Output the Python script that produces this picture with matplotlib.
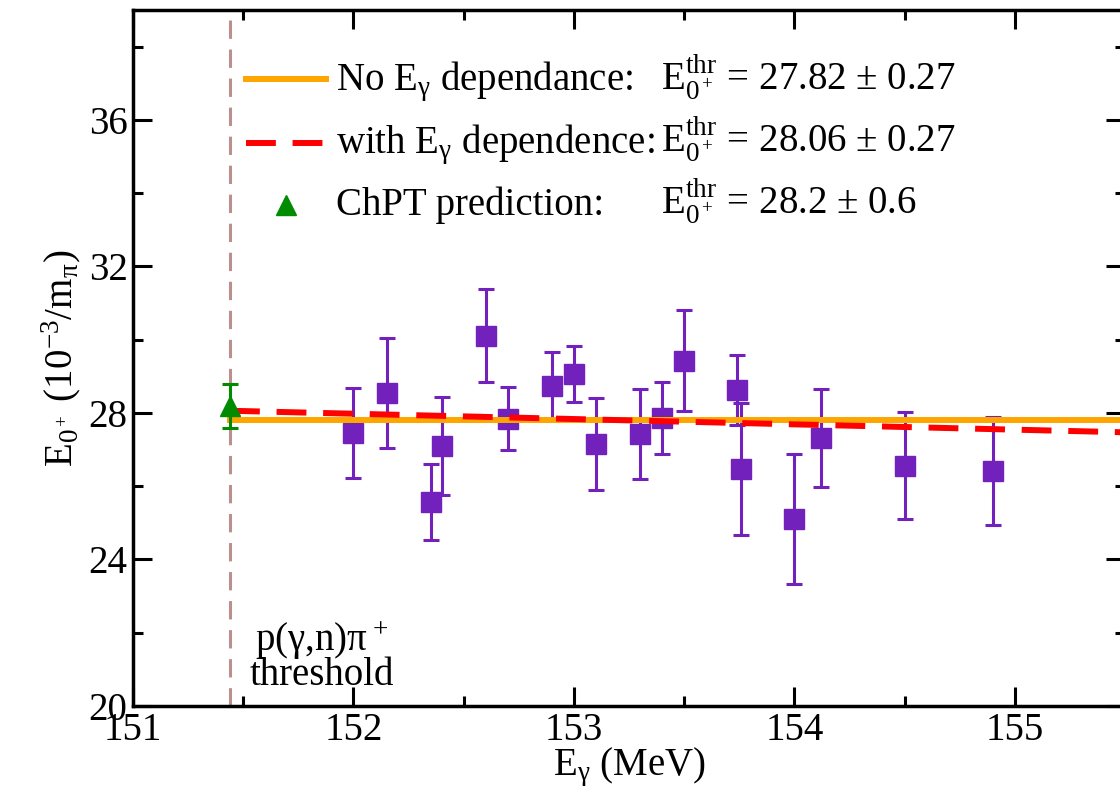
import matplotlib
matplotlib.use('Agg')
import matplotlib.pyplot as plt
import numpy as np
from matplotlib.lines import Line2D

plt.rcParams['font.family'] = ['Liberation Serif', 'DejaVu Serif']
plt.rcParams['mathtext.fontset'] = 'custom'
plt.rcParams['mathtext.rm'] = 'Liberation Serif'
plt.rcParams['mathtext.it'] = 'Liberation Serif'
plt.rcParams['mathtext.bf'] = 'Liberation Serif:bold'
plt.rcParams['mathtext.fallback'] = 'stix'

# ---- data ----
energy = [152.00, 152.15, 152.35, 152.40, 152.60, 152.70, 152.90, 153.00, 153.10,
          153.30, 153.40, 153.50, 153.74, 153.76, 154.00, 154.12, 154.50, 154.90]
e0 = [27.46, 28.55, 25.57, 27.10, 30.11, 27.84, 28.74, 29.07, 27.16,
      27.43, 27.87, 29.43, 28.63, 26.48, 25.11, 27.32, 26.56, 26.42]
err = [1.23, 1.50, 1.04, 1.33, 1.26, 0.86, 0.92, 0.77, 1.25,
       1.23, 0.98, 1.38, 0.96, 1.80, 1.77, 1.34, 1.46, 1.47]

threshold_energy = 151.44
chpt_value = 28.2
chpt_err = 0.6
fit_const = 27.82
fit_thr = 28.06
fit_slope = -0.145  # per MeV

xlim = (151.0, 155.5)
ylim = (20.0, 39.0)
xticks = [151, 152, 153, 154, 155]
yticks = [20, 24, 28, 32, 36]

W, H = 1120, 808
fig = plt.figure(figsize=(W / 100, H / 100), dpi=100)

def px(x, y):
    return x / W, 1 - y / H

ax = fig.add_axes([133 / W, 102 / H, 992 / W, 696 / H])
ax.set_xlim(*xlim)
ax.set_ylim(*ylim)

PURPLE = '#7221BC'
ORANGE = '#FFA500'
RED = '#FF0000'
GREEN = '#008B00'
ROSY = '#BC8F8F'

# threshold line
ax.axvline(threshold_energy, color=ROSY, lw=2.2, dashes=(6, 3.5), zorder=1)

# data
ax.errorbar(energy, e0, yerr=err, fmt='s', color=PURPLE, ms=14.5, elinewidth=2.2,
            capsize=6, capthick=2.2, zorder=2)

# fits
xf = np.array([threshold_energy, xlim[1]])
ax.plot(xf, [fit_const, fit_const], color=ORANGE, lw=4.3, zorder=3)
ax.plot(xf, fit_thr + fit_slope * (xf - threshold_energy), color=RED, lw=4.3,
        dashes=(5, 2.8), zorder=4)

# ChPT
ax.errorbar([threshold_energy], [chpt_value], yerr=[chpt_err], fmt='^', color=GREEN,
            ms=14.5, elinewidth=2.2, capsize=6, capthick=2.2, zorder=5)

# ticks
ax.set_xticks(xticks)
ax.set_yticks(yticks)
ax.set_xticks(np.arange(151.5, 155.6, 1.0), minor=True)
ax.set_yticks(np.arange(22, 39, 4), minor=True)
ax.tick_params(which='both', direction='in', top=True, right=True, width=2.2,
               labelsize=28)
ax.tick_params(which='major', length=14)
ax.tick_params(which='minor', length=7)
ax.tick_params(axis='x', pad=4)
ax.tick_params(axis='y', pad=4)
for s in ax.spines.values():
    s.set_linewidth(2.5)

ax.set_xlabel(r'E$_\gamma$ (MeV)', fontsize=28, labelpad=-2)
ax.set_ylabel(r'E$_{0^+}$ (10$^{-3}$/m$_\pi$)', fontsize=28, labelpad=4)

# legend (manual)
fs = 28
fig.add_artist(Line2D([246 / W, 326 / W], [1 - 79 / H] * 2, color=ORANGE, lw=4.3))
fig.add_artist(Line2D([246 / W, 326 / W], [1 - 143 / H] * 2, color=RED, lw=4.3,
                      dashes=(5, 2.8)))
fig.add_artist(Line2D([286 / W], [1 - 205 / H], marker='^', color=GREEN, ms=14.5,
                      ls='none'))
rows = [
    (90, r'No E$_\gamma$ dependance:', r'E$_{0^+}^{\rm thr}$ = 27.82 $\pm$ 0.27'),
    (153, r'with E$_\gamma$ dependence:', r'E$_{0^+}^{\rm thr}$ = 28.06 $\pm$ 0.27'),
    (215, r'ChPT prediction:', r'E$_{0^+}^{\rm thr}$ = 28.2 $\pm$ 0.6'),
]
for yb, left, right in rows:
    fig.text(*px(336, yb), left, fontsize=fs, va='baseline', ha='left')
    fig.text(*px(661, yb), right, fontsize=fs, va='baseline', ha='left')

# threshold annotation
fig.text(*px(322, 651), r'p($\gamma$,n)$\pi^+$', fontsize=fs, ha='center', va='baseline')
fig.text(*px(322, 685), 'threshold', fontsize=fs, ha='center', va='baseline')

fig.savefig('out.png', dpi=100)
